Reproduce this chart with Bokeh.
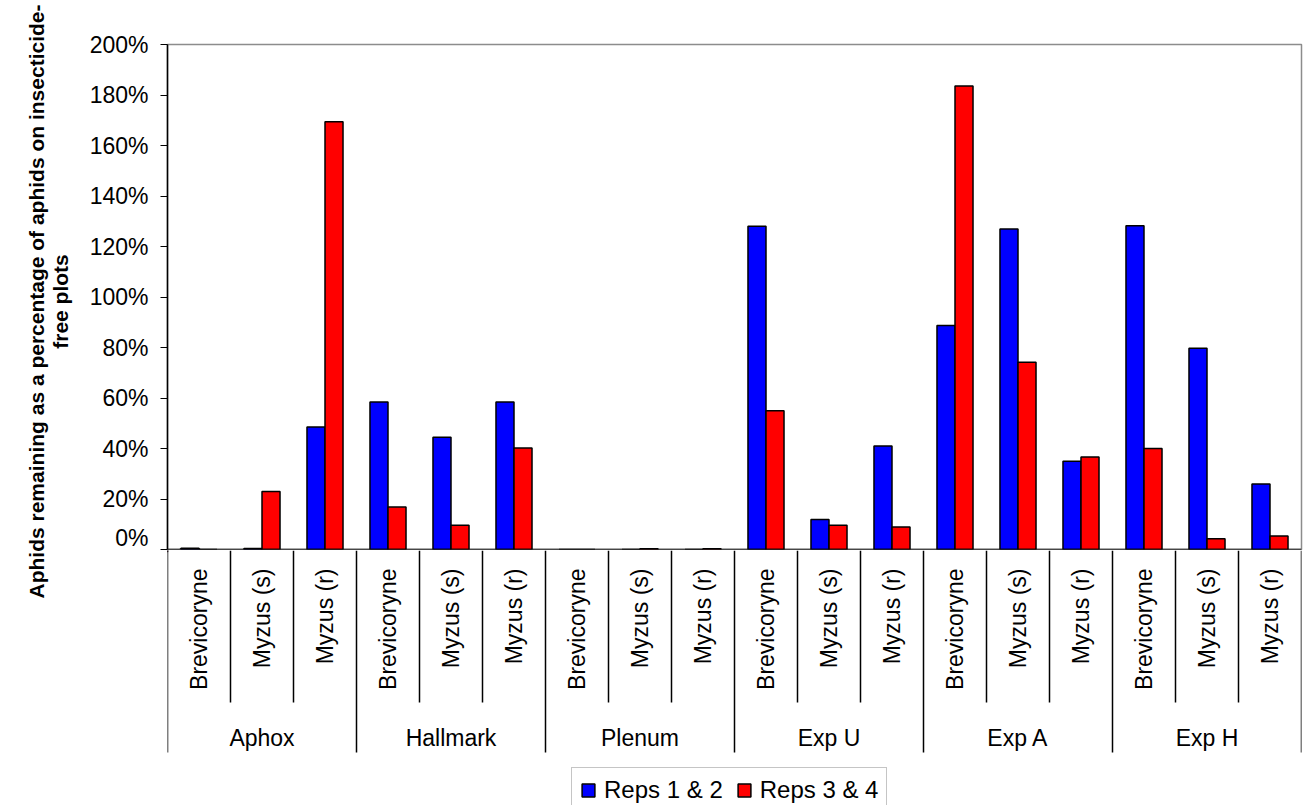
import math
from bokeh.plotting import figure
from bokeh.models import (Range1d, FixedTicker, NumeralTickFormatter, Span,
                          ColumnDataSource, Legend, LegendItem)
from bokeh.layouts import column, row
from bokeh.core.properties import value
from bokeh.embed import file_html
from bokeh.resources import INLINE

# ---------------- data ----------------
groups = ["Aphox", "Hallmark", "Plenum", "Exp U", "Exp A", "Exp H"]
subcats = ["Brevicoryne", "Myzus (s)", "Myzus (r)"]
reps_1_2 = [0.005, 0.004, 0.485, 0.584, 0.445, 0.584, 0.0, 0.0, 0.0,
            1.280, 0.119, 0.410, 0.887, 1.269, 0.350, 1.282, 0.797, 0.259]
reps_3_4 = [0.0, 0.230, 1.694, 0.168, 0.096, 0.402, 0.0, 0.003, 0.003,
            0.550, 0.096, 0.089, 1.836, 0.742, 0.366, 0.400, 0.043, 0.053]
series_names = ["Reps 1 & 2", "Reps 3 & 4"]
series_colors = ["#0000FF", "#FF0000"]
y_ticks = [0.0, 0.2, 0.4, 0.6, 0.8, 1.0, 1.2, 1.4, 1.6, 1.8, 2.0]
y_title_lines = ["Aphids remaining as a percentage of aphids on insecticide-",
                 "free plots"]

FONT = "Liberation Sans"
n_cat = len(groups) * len(subcats)
cat_x = [i + 0.5 for i in range(n_cat)]
bar_w = 0.286

W, H = 1309, 805
TITLE_W = 85
LEFT, RIGHT = 167 - TITLE_W, 8
TOP_H = 550

# ---------------- left: y-axis title panel ----------------
ttl = figure(width=TITLE_W, height=H, output_backend="svg", toolbar_location=None,
             x_range=Range1d(0, TITLE_W), y_range=Range1d(H, 0),
             min_border=0)
ttl.axis.visible = False
ttl.grid.visible = False
ttl.outline_line_color = None
ttl.border_fill_color = "white"
ttl.text(x=[36, 60], y=[301, 301], text=y_title_lines, angle=math.pi / 2,
         text_align="center", text_baseline="alphabetic",
         text_font=value(FONT), text_font_size="21px", text_font_style="bold",
         text_color="black")

# ---------------- top: plot area ----------------
top = figure(width=W - TITLE_W, height=TOP_H, output_backend="svg", toolbar_location=None,
             x_range=Range1d(0, n_cat), y_range=Range1d(0, 2.0),
             min_border_left=LEFT, min_border_right=RIGHT,
             min_border_top=44, min_border_bottom=1)
top.xaxis.visible = False
top.grid.visible = False
top.outline_line_color = "#8c8c8c"
top.outline_line_width = 1.5
top.border_fill_color = "white"

src = ColumnDataSource(dict(
    xb=[x - bar_w / 2 for x in cat_x],
    xr=[x + bar_w / 2 for x in cat_x],
    b=reps_1_2, r=reps_3_4))
rb = top.vbar(x="xb", top="b", width=bar_w, source=src,
              fill_color=series_colors[0], line_color="black", line_width=1.5)
rr = top.vbar(x="xr", top="r", width=bar_w, source=src,
              fill_color=series_colors[1], line_color="black", line_width=1.5)

top.add_layout(Span(location=0, dimension="width", line_color="black", line_width=1.5))

ya = top.yaxis[0]
ya.ticker = FixedTicker(ticks=y_ticks)
ya.formatter = NumeralTickFormatter(format="0%")
ya.minor_tick_line_color = None
ya.major_tick_out = 7
ya.major_tick_in = 0
ya.major_tick_line_color = "black"
ya.axis_line_color = "black"
ya.axis_line_width = 1.5
ya.major_label_standoff = 12
ya.major_label_text_font = FONT
ya.major_label_text_font_size = "23px"
ya.major_label_text_color = "black"

# ---------------- bottom: category axis area ----------------
bot = figure(width=W - TITLE_W, height=H - TOP_H, output_backend="svg", toolbar_location=None,
             x_range=top.x_range, y_range=Range1d(H - TOP_H, 0),
             min_border_left=LEFT, min_border_right=RIGHT,
             min_border_top=0, min_border_bottom=0)
bot.axis.visible = False
bot.grid.visible = False
bot.outline_line_color = None
bot.border_fill_color = "white"

sub_labels = [subcats[i % 3] for i in range(n_cat)]
bot.text(x=cat_x, y=[18] * n_cat, text=sub_labels, angle=math.pi / 2,
         text_align="right", text_baseline="middle",
         text_font=value(FONT), text_font_size="23px", text_color="black")

grp_x = [3 * g + 1.5 for g in range(len(groups))]
bot.text(x=grp_x, y=[187] * len(groups), text=groups,
         text_align="center", text_baseline="middle",
         text_font=value(FONT), text_font_size="23px", text_color="black")

inner = [i for i in range(1, n_cat) if i % 3 != 0]
outer = [i for i in range(0, n_cat + 1) if i % 3 == 0]
bot.segment(x0=inner, y0=[0] * len(inner), x1=inner, y1=[152] * len(inner),
            line_color="black", line_width=1.5)
bot.segment(x0=outer, y0=[0] * len(outer), x1=outer, y1=[202] * len(outer),
            line_color="black", line_width=1.5)

# legend (dummy renderers placed out of view in this panel)
lb = bot.vbar(x=[-5], top=[1], bottom=[0], width=0.3,
              fill_color=series_colors[0], line_color="black", line_width=1.5)
lr = bot.vbar(x=[-5], top=[1], bottom=[0], width=0.3,
              fill_color=series_colors[1], line_color="black", line_width=1.5)
legend = Legend(items=[LegendItem(label=series_names[0], renderers=[lb]),
                       LegendItem(label=series_names[1], renderers=[lr])],
                orientation="horizontal", location=(404, -8),
                glyph_width=16, glyph_height=16, label_height=16,
                label_standoff=8, spacing=13, padding=8, margin=0,
                label_text_font=FONT, label_text_font_size="24px",
                label_text_color="black", border_line_color="#8c8c8c",
                border_line_width=1.5, background_fill_alpha=1.0)
bot.add_layout(legend)

p = row(ttl, column(top, bot, spacing=0), spacing=0)
open("out.html", "w").write(file_html(p, INLINE))
